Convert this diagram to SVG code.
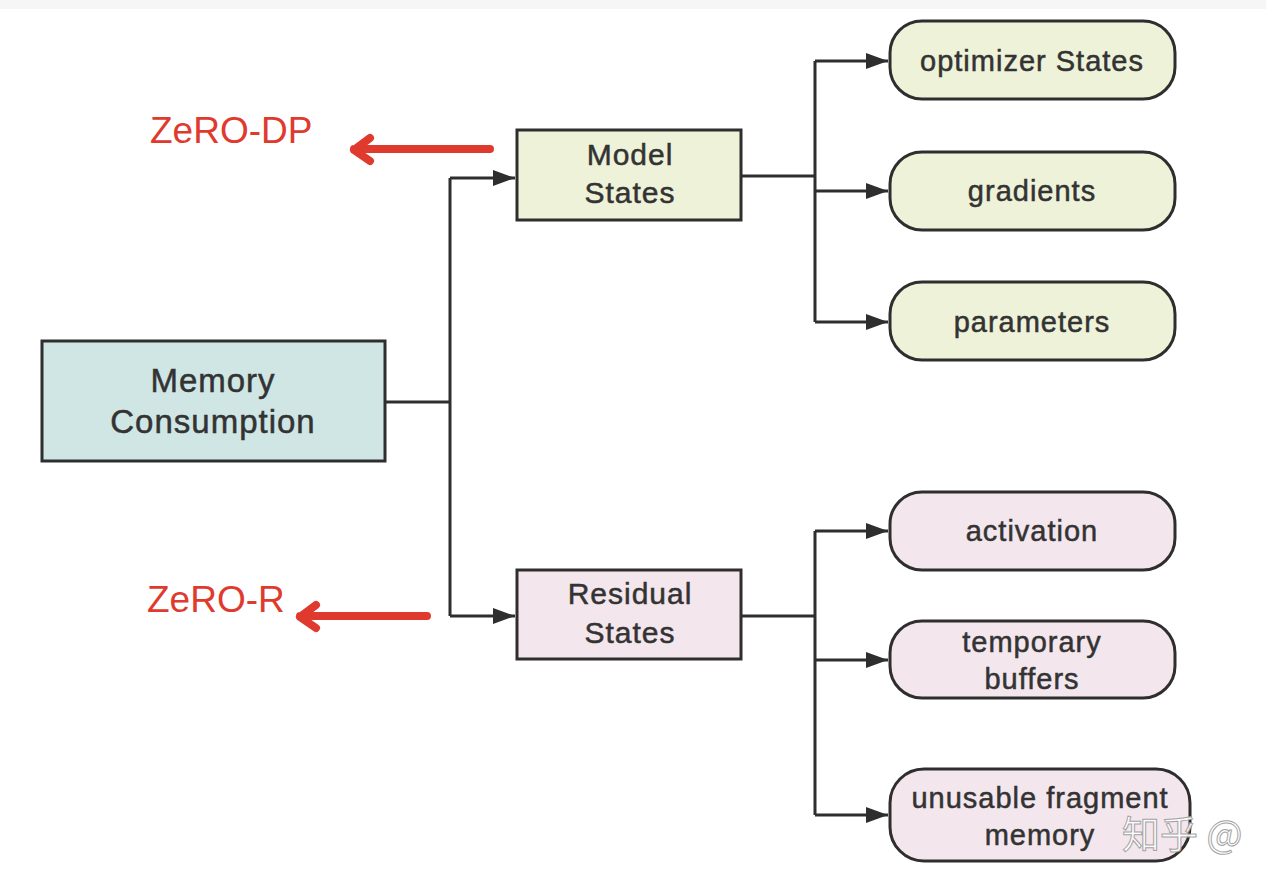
<svg xmlns="http://www.w3.org/2000/svg" width="1266" height="882" viewBox="0 0 1266 882">
<style>
.box{stroke:#2e2e2e;stroke-width:3}
.t{font-family:"Liberation Sans",Arial,sans-serif;fill:#333;stroke:#333;stroke-width:0.5;text-anchor:middle;letter-spacing:1px}
.red{font-family:"Liberation Sans",Arial,sans-serif;fill:#e03a2f;font-size:37px}
.conn{fill:none;stroke:#2e2e2e;stroke-width:3}
.redarrow{fill:none;stroke:#e03a2f;stroke-width:8;stroke-linecap:round;stroke-linejoin:round}
</style>
<defs>
<marker id="ah" markerWidth="24" markerHeight="18" refX="22" refY="9" orient="auto" markerUnits="userSpaceOnUse">
<path d="M0,1 L22,9 L0,17 Z" fill="#2e2e2e"/>
</marker>
</defs>
<rect width="1266" height="882" fill="#ffffff"/>
<rect width="1266" height="9" fill="#f6f6f6"/>

<g id="connectors">
<path class="conn" d="M385,402 H450"/>
<path class="conn" d="M450,178 V616"/>
<path class="conn" d="M450,178 H515" marker-end="url(#ah)"/>
<path class="conn" d="M450,616 H515" marker-end="url(#ah)"/>
<path class="conn" d="M741,176 H815"/>
<path class="conn" d="M815,61 V322"/>
<path class="conn" d="M815,61 H888" marker-end="url(#ah)"/>
<path class="conn" d="M815,191 H888" marker-end="url(#ah)"/>
<path class="conn" d="M815,322 H888" marker-end="url(#ah)"/>
<path class="conn" d="M741,616 H815"/>
<path class="conn" d="M815,531 V815"/>
<path class="conn" d="M815,531 H888" marker-end="url(#ah)"/>
<path class="conn" d="M815,660 H888" marker-end="url(#ah)"/>
<path class="conn" d="M815,815 H888" marker-end="url(#ah)"/>
</g>

<g id="memory-consumption">
<rect class="box" x="42" y="341" width="343" height="120" fill="#cfe6e4"/>
<text class="t" x="213" y="392" font-size="33">Memory</text>
<text class="t" x="213" y="433" font-size="33">Consumption</text>
</g>

<g id="model-states">
<rect class="box" x="517" y="130" width="224" height="90" fill="#eef2d8"/>
<text class="t" x="630" y="165" font-size="30">Model</text>
<text class="t" x="630" y="203" font-size="30">States</text>
</g>

<g id="residual-states">
<rect class="box" x="517" y="570" width="224" height="89" fill="#f3e6ec"/>
<text class="t" x="630" y="604" font-size="30">Residual</text>
<text class="t" x="630" y="643" font-size="30">States</text>
</g>

<g id="optimizer-states">
<rect class="box" x="890" y="21" width="285" height="78" rx="32" fill="#eef2d8"/>
<text class="t" x="1032" y="71" font-size="29">optimizer States</text>
</g>
<g id="gradients">
<rect class="box" x="890" y="152" width="285" height="78" rx="32" fill="#eef2d8"/>
<text class="t" x="1032" y="201" font-size="29">gradients</text>
</g>
<g id="parameters">
<rect class="box" x="890" y="282" width="285" height="78" rx="32" fill="#eef2d8"/>
<text class="t" x="1032" y="332" font-size="29">parameters</text>
</g>
<g id="activation">
<rect class="box" x="890" y="492" width="285" height="78" rx="32" fill="#f3e6ec"/>
<text class="t" x="1032" y="541" font-size="29">activation</text>
</g>
<g id="temporary-buffers">
<rect class="box" x="890" y="621" width="285" height="77" rx="32" fill="#f3e6ec"/>
<text class="t" x="1032" y="652" font-size="29">temporary</text>
<text class="t" x="1032" y="689" font-size="29">buffers</text>
</g>
<g id="unusable-fragment-memory">
<rect class="box" x="890" y="769" width="300" height="92" rx="34" fill="#f3e6ec"/>
<text class="t" x="1040" y="808" font-size="29">unusable fragment</text>
<text class="t" x="1040" y="845" font-size="29">memory</text>
</g>

<g id="zero-dp">
<text class="red" x="150" y="143">ZeRO-DP</text>
<path class="redarrow" d="M490,149 H354 M370,138 L354,150 L370,161"/>
</g>
<g id="zero-r">
<text class="red" x="147" y="612">ZeRO-R</text>
<path class="redarrow" d="M427,616 H300 M316,605 L300,617 L316,628"/>
</g>

<g id="watermark">
<text x="1122" y="848" font-family="'Noto Sans CJK SC',sans-serif" font-size="38" fill="#ffffff" stroke="#9a9a9a" stroke-width="1" opacity="0.9">知乎 @</text>
</g>
</svg>
